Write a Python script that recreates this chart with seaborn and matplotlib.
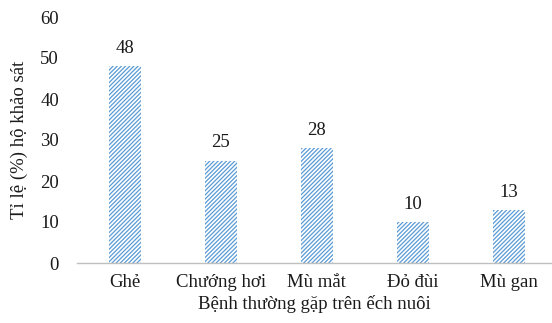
import matplotlib
matplotlib.use("Agg")
import matplotlib.pyplot as plt
import seaborn as sns
import pandas as pd

categories = ["Ghẻ", "Chướng hơi", "Mù mắt", "Đỏ đùi", "Mù gan"]
values = [48, 25, 28, 10, 13]
y_ticks = [0, 10, 20, 30, 40, 50, 60]

sns.set_theme(style="white")
plt.rcParams["font.family"] = ["Liberation Serif", "DejaVu Serif"]
plt.rcParams["hatch.linewidth"] = 0.9

df = pd.DataFrame({"benh": categories, "tile": values})

fig = plt.figure(figsize=(5.52, 3.23), dpi=100)
ax = fig.add_axes([77 / 552, 60 / 323, 1 - 77 / 552, (263 - 17) / 323])

sns.barplot(data=df, x="benh", y="tile", ax=ax, width=0.34,
            color="white", saturation=1)
blue = "#5B9BD5"
for patch in ax.patches:
    patch.set_facecolor("white")
    patch.set_edgecolor(blue)
    patch.set_hatch("////////")
    patch.set_linewidth(0)

fs = 13.5
ink = "#1a1a1a"
for i, v in enumerate(values):
    ax.text(i, v + 2.2, f"{v}", ha="center", va="bottom", fontsize=fs, color=ink)

ax.set_ylim(0, 60)
ax.set_xlim(-0.5, 4.45)
ax.set_yticks(y_ticks)
ax.set_yticklabels([str(t) for t in y_ticks], fontsize=fs, color=ink)
ax.tick_params(axis="x", labelsize=fs, colors=ink, length=0, pad=8)
ax.tick_params(axis="y", length=0, pad=13)

for side in ["top", "right", "left"]:
    ax.spines[side].set_visible(False)
ax.spines["bottom"].set_color("#BFBFBF")
ax.spines["bottom"].set_linewidth(1.0)

ax.set_xlabel("Bệnh thường gặp trên ếch nuôi", fontsize=fs, color=ink, labelpad=3)
ax.set_ylabel("Tỉ lệ (%) hộ khảo sát", fontsize=fs, color=ink, labelpad=9)

fig.savefig("out.png", dpi=100)
